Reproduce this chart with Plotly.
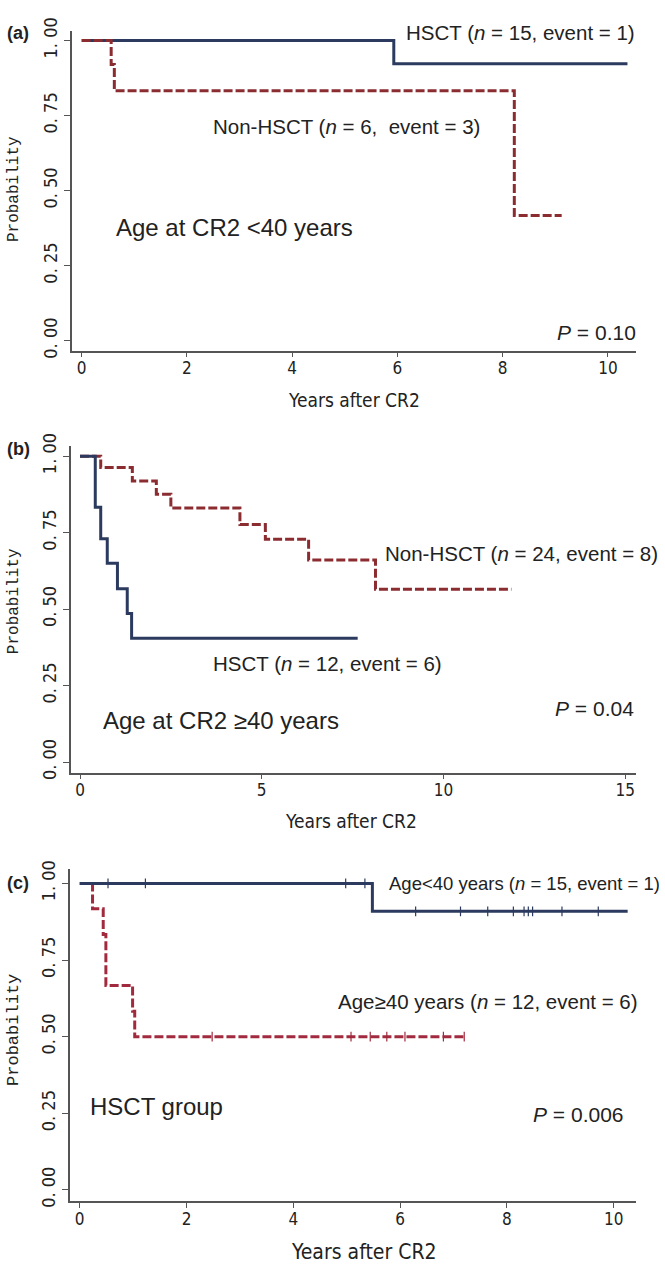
import plotly.graph_objects as go

# ---------------- data ----------------
# Panel (a): Age at CR2 < 40 years
a_hsct_t = [5.93]
a_hsct_s = [0.923]
a_hsct_end = 10.37
a_non_t = [0.56, 0.62, 8.22]
a_non_s = [0.92, 0.833, 0.417]
a_non_end = 9.12

# Panel (b): Age at CR2 >= 40 years
b_hsct_t = [0.42, 0.57, 0.75, 1.03, 1.30, 1.42]
b_hsct_s = [0.833, 0.73, 0.65, 0.567, 0.486, 0.405]
b_hsct_end = 7.64
b_non_t = [0.57, 1.44, 2.10, 2.50, 4.40, 5.10, 6.29, 8.13]
b_non_s = [0.963, 0.919, 0.876, 0.831, 0.777, 0.729, 0.661, 0.565]
b_non_end = 11.87

# Panel (c): HSCT group
c_young_t = [5.48]
c_young_s = [0.909]
c_young_end = 10.26
c_young_cens = [0.53, 1.23, 4.98, 5.34, 6.29, 7.13, 7.64, 8.12, 8.32, 8.40, 8.48, 9.03, 9.71]
c_old_t = [0.24, 0.44, 0.49, 0.99, 1.03]
c_old_s = [0.917, 0.833, 0.667, 0.583, 0.50]
c_old_end = 7.24
c_old_cens = [2.48, 5.08, 5.44, 5.75, 6.09, 6.81, 7.20]

y_ticks = [0, 0.25, 0.5, 0.75, 1.0]
y_ticktext = ["0. 00", "0. 25", "0. 50", "0. 75", "1. 00"]
a_xticks = [0, 2, 4, 6, 8, 10]
b_xticks = [0, 5, 10, 15]
c_xticks = [0, 2, 4, 6, 8, 10]

# ---------------- styling ----------------
W, H = 665, 1273
NAVY = "#2b3a5e"
RED = "#8b2c30"
RED_C = "#a12a3e"
AXC = "#555555"
TXT = "#222222"
NARROW = "Liberation Sans Narrow, Arial Narrow, DejaVu Sans Condensed, sans-serif"
SANS = "Liberation Sans, Arial, sans-serif"
MONO = "Liberation Mono, DejaVu Sans Mono, monospace"


def steps(t, s, end):
    return [0] + list(t) + [end], [1.0] + list(s) + [s[-1]]


def level_at(t, s, x):
    v = 1.0
    for ti, si in zip(t, s):
        if x >= ti:
            v = si
    return v


def px_x(p):
    return p / W


def px_y(p):
    return 1 - p / H


fig = go.Figure()

def add_curve(t, s, end, color, dash, xa, ya):
    xs, ys = steps(t, s, end)
    fig.add_trace(go.Scatter(x=xs, y=ys, mode="lines", line_shape="hv",
                             line=dict(color=color, width=3, dash=dash),
                             xaxis=xa, yaxis=ya, showlegend=False, hoverinfo="skip"))


def add_cens(t, s, cens, color, xa, ya):
    fig.add_trace(go.Scatter(x=cens, y=[level_at(t, s, c) for c in cens], mode="markers",
                             marker=dict(symbol="line-ns", size=7,
                                         line=dict(color=color, width=1.2)),
                             xaxis=xa, yaxis=ya, showlegend=False, hoverinfo="skip"))

DASH = "9px,3px"
add_curve(a_hsct_t, a_hsct_s, a_hsct_end, NAVY, "solid", "x", "y")
add_curve(a_non_t, a_non_s, a_non_end, RED, DASH, "x", "y")
add_curve(b_non_t, b_non_s, b_non_end, RED, DASH, "x2", "y2")
add_curve(b_hsct_t, b_hsct_s, b_hsct_end, NAVY, "solid", "x2", "y2")
add_curve(c_old_t, c_old_s, c_old_end, RED_C, DASH, "x3", "y3")
add_curve(c_young_t, c_young_s, c_young_end, NAVY, "solid", "x3", "y3")
add_cens(c_young_t, c_young_s, c_young_cens, NAVY, "x3", "y3")
add_cens(c_old_t, c_old_s, c_old_cens, RED_C, "x3", "y3")

# panel geometry in pixels: (left, right, top, bottom, xrange, yrange)
panels = [
    (71.7, 636.3, 18, 343.3, [-0.19, 10.538], [-0.0328, 1.0328], a_xticks),
    (70.7, 635.7, 440, 772.3, [-0.256, 15.29], [-0.0341, 1.0344], b_xticks),
    (70.0, 636.2, 870, 1208.3, [-0.182, 10.42], [-0.0372, 1.0481], c_xticks),
]

layout_axes = {}
for i, (l, r, t, b, xr, yr, xt) in enumerate(panels):
    sfx = "" if i == 0 else str(i + 1)
    layout_axes["xaxis" + sfx] = dict(
        domain=[px_x(l), px_x(r)], range=xr, anchor="y" + sfx,
        tickmode="array", tickvals=xt, ticktext=[str(v) for v in xt],
        showline=True, linecolor=AXC, linewidth=1.5, ticks="outside", ticklen=5,
        tickwidth=1, tickcolor=AXC, showgrid=False, zeroline=False,
        tickfont=dict(family=NARROW, size=17, color=TXT), ticklabelstandoff=-4,
        fixedrange=True)
    layout_axes["yaxis" + sfx] = dict(
        domain=[px_y(b), px_y(t)], range=yr, anchor="x" + sfx,
        tickmode="array", tickvals=y_ticks, ticktext=y_ticktext, tickangle=-90,
        showline=True, linecolor=AXC, linewidth=1.5, ticks="outside", ticklen=6,
        tickwidth=1, tickcolor=AXC, showgrid=False, zeroline=False,
        tickfont=dict(family=NARROW, size=18, color=TXT), ticklabelstandoff=0,
        fixedrange=True)

ann = []

def txt(text, x, y, size, anchor="left", family=SANS, angle=0):
    ann.append(dict(text=text, x=px_x(x), y=px_y(y), xref="paper", yref="paper",
                    xanchor=anchor, yanchor="middle", showarrow=False, textangle=angle,
                    font=dict(family=family, size=size, color=TXT)))

# panel (a)
txt("<b>(a)</b>", 5, 20, 18)
txt("HSCT (<i>n</i> = 15, event = 1)", 403.7, 20, 20.5)
txt("Non-HSCT (<i>n</i> = 6,\u00a0 event = 3)", 210.8, 115, 20.5)
txt("Age at CR2 <40 years", 113.7, 218, 24)
txt("<i>P</i> = 0.10", 638, 325, 21, anchor="right")
txt("Years after CR2", 353.6, 393, 19, anchor="center", family=NARROW)
txt("Probability", 14, 179, 16, anchor="center", family=MONO, angle=-90)

# panel (b)
txt("<b>(b)</b>", 5, 443, 18)
txt("Non-HSCT (<i>n</i> = 24, event = 8)", 383, 550, 20.5)
txt("HSCT (<i>n</i> = 12, event = 6)", 210.8, 661.7, 20.5)
txt("Age at CR2 \u226540 years", 100.5, 719.3, 24)
txt("<i>P</i> = 0.04", 636.2, 707.3, 21, anchor="right")
txt("Years after CR2", 351.4, 821.7, 19, anchor="center", family=NARROW)
txt("Probability", 14, 598, 16, anchor="center", family=MONO, angle=-90)

# panel (c)
txt("<b>(c)</b>", 5, 885, 18)
txt("Age<40 years (<i>n</i> = 15, event = 1)", 662, 885, 18.5, anchor="right")
txt("Age\u226540 years (<i>n</i> = 12, event = 6)", 336.3, 1005, 20.5)
txt("HSCT group", 88.2, 1111.7, 24)
txt("<i>P</i> = 0.006", 625.6, 1120, 21, anchor="right")
txt("Years after CR2", 364.3, 1260, 21, anchor="center", family=NARROW)
txt("Probability", 14, 1034, 17, anchor="center", family=MONO, angle=-90)

fig.update_layout(
    width=W, height=H, margin=dict(l=0, r=0, t=0, b=0),
    paper_bgcolor="white", plot_bgcolor="white",
    annotations=ann, **layout_axes)

fig.write_html("out.html", config=dict(displayModeBar=False))
